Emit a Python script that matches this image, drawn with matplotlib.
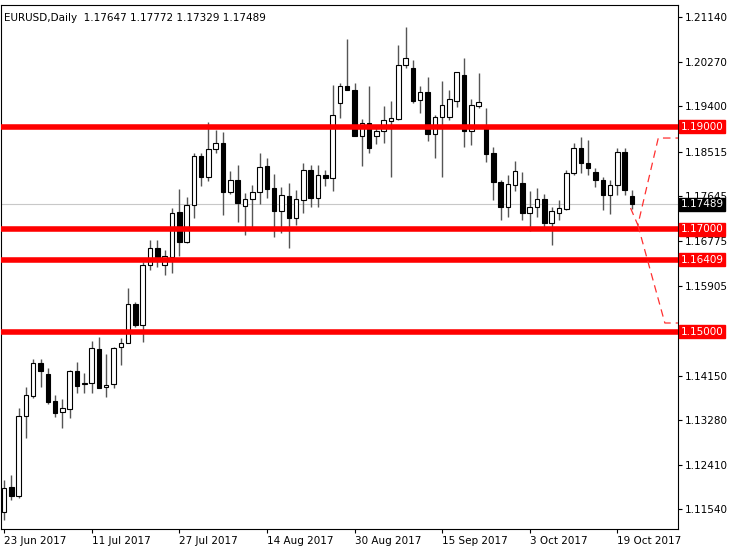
import matplotlib
matplotlib.use("Agg")
from matplotlib import pyplot as plt

# daily EURUSD candles, 23 Jun 2017 .. 20 Oct 2017
opens = [1.11488, 1.11975, 1.11800, 1.13360, 1.13750, 1.14394, 1.14179, 1.13652, 1.13438, 1.13497,
         1.14238, 1.13984, 1.14004, 1.14667, 1.13921, 1.13984, 1.14706, 1.14784, 1.15544, 1.15135,
         1.16305, 1.16636, 1.16305, 1.16461, 1.17338, 1.16753, 1.17475, 1.18430, 1.18021, 1.18567,
         1.18684, 1.17728, 1.17962, 1.17455, 1.17592, 1.17728, 1.18235, 1.17806, 1.17358, 1.17650,
         1.17221, 1.17572, 1.18157, 1.17611, 1.18059, 1.18001, 1.19464, 1.19795, 1.19717, 1.18820,
         1.19074, 1.18820, 1.18917, 1.19113, 1.19152, 1.20205, 1.20146, 1.19522, 1.19678, 1.18859,
         1.19191, 1.19191, 1.19502, 1.20012, 1.18917, 1.19405, 1.19015, 1.18488, 1.17923, 1.17436,
         1.17865, 1.17904, 1.17319, 1.17436, 1.17592, 1.17123, 1.17319, 1.17397, 1.18099, 1.18586,
         1.18294, 1.18118, 1.17962, 1.17670, 1.17865, 1.18508, 1.17650]
highs = [1.12112, 1.12210, 1.13516, 1.13926, 1.14472, 1.14472, 1.14296, 1.13770, 1.13692, 1.14257,
         1.14413, 1.14199, 1.14823, 1.14901, 1.14569, 1.14706, 1.14881, 1.15856, 1.15583, 1.16363,
         1.16792, 1.16792, 1.16597, 1.17416, 1.17787, 1.17631, 1.18489, 1.18489, 1.19093, 1.18937,
         1.18898, 1.18137, 1.18255, 1.17709, 1.17865, 1.18489, 1.18391, 1.18082, 1.17826, 1.17904,
         1.17767, 1.18294, 1.18255, 1.18255, 1.18157, 1.19815, 1.19854, 1.20712, 1.19854, 1.19152,
         1.19795, 1.19035, 1.19405, 1.19502, 1.20595, 1.20946, 1.20302, 1.19795, 1.19971, 1.19230,
         1.19893, 1.19717, 1.20068, 1.20341, 1.19541, 1.20049, 1.19366, 1.18606, 1.17962, 1.18059,
         1.18333, 1.18118, 1.17748, 1.17806, 1.17689, 1.17436, 1.17572, 1.18157, 1.18684, 1.18801,
         1.18742, 1.18196, 1.18021, 1.17962, 1.18586, 1.18586, 1.17767]
lows = [1.11332, 1.11722, 1.11761, 1.12931, 1.13711, 1.13926, 1.13594, 1.13341, 1.13126, 1.13321,
        1.13809, 1.13809, 1.13809, 1.13926, 1.13731, 1.13906, 1.14355, 1.14803, 1.15096, 1.14803,
        1.16207, 1.16266, 1.16110, 1.16149, 1.16480, 1.16733, 1.17221, 1.17845, 1.17943, 1.18489,
        1.17280, 1.17689, 1.17143, 1.16889, 1.17046, 1.17494, 1.17611, 1.16851, 1.16929, 1.16636,
        1.17085, 1.17319, 1.17436, 1.17436, 1.17845, 1.17748, 1.19171, 1.19717, 1.18820, 1.18235,
        1.18488, 1.18664, 1.18684, 1.18015, 1.19132, 1.20146, 1.19464, 1.19269, 1.18723, 1.18391,
        1.18015, 1.19132, 1.19386, 1.18606, 1.18645, 1.19366, 1.18313, 1.17572, 1.17182, 1.17241,
        1.17748, 1.17182, 1.16967, 1.17241, 1.17046, 1.16695, 1.17182, 1.17377, 1.18059, 1.18099,
        1.18059, 1.17826, 1.17377, 1.17299, 1.17670, 1.17670, 1.17397]
closes = [1.11956, 1.11800, 1.13360, 1.13770, 1.14394, 1.14238, 1.13633, 1.13419, 1.13516, 1.14238,
          1.13945, 1.13984, 1.14686, 1.13901, 1.13965, 1.14686, 1.14784, 1.15544, 1.15135, 1.16305,
          1.16636, 1.16461, 1.16480, 1.17319, 1.16753, 1.17475, 1.18430, 1.18021, 1.18567, 1.18684,
          1.17728, 1.17962, 1.17514, 1.17592, 1.17728, 1.18216, 1.17787, 1.17358, 1.17670, 1.17221,
          1.17592, 1.18157, 1.17611, 1.18059, 1.18001, 1.19230, 1.19795, 1.19717, 1.18820, 1.19074,
          1.18586, 1.18917, 1.19132, 1.19171, 1.20205, 1.20341, 1.19502, 1.19678, 1.18859, 1.19191,
          1.19425, 1.19541, 1.20068, 1.18917, 1.19425, 1.19483, 1.18469, 1.17923, 1.17436, 1.17884,
          1.18137, 1.17319, 1.17436, 1.17592, 1.17123, 1.17358, 1.17416, 1.18099, 1.18586, 1.18294,
          1.18196, 1.17962, 1.17670, 1.17865, 1.18508, 1.17767, 1.17489]

date_labels = ["23 Jun 2017", "11 Jul 2017", "27 Jul 2017", "14 Aug 2017",
               "30 Aug 2017", "15 Sep 2017", "3 Oct 2017", "19 Oct 2017"]
date_idx = [0, 12, 24, 36, 48, 60, 72, 84]
price_ticks = [1.21140, 1.20270, 1.19400, 1.18515, 1.17645, 1.16775,
               1.15905, 1.14150, 1.13280, 1.12410, 1.11540]
levels = [1.19000, 1.17000, 1.16409, 1.15000]
last_price = 1.17489
proj_x = [85.8, 86.8, 89.6, 92.3]
proj_y = [1.17416, 1.17085, 1.18781, 1.18781]
proj2_x = [86.8, 90.5, 92.3]
proj2_y = [1.17085, 1.15174, 1.15174]

fig = plt.figure(figsize=(7.30, 5.48), dpi=100)
ax = fig.add_axes([1 / 730, 1 - 529 / 548, 677 / 730, 524 / 548])
ax.set_xlim(-0.41, 92.3)
ax.set_ylim(1.11157, 1.21375)

# candles
for i, (o, h, l, c) in enumerate(zip(opens, highs, lows, closes)):
    ax.vlines(i, l, h, color="#555555", lw=1, zorder=2)
    bottom = min(o, c)
    height = max(abs(c - o), 0.00012)
    face = "white" if c >= o else "black"
    ax.bar(i, height, bottom=bottom, width=0.62, color=face,
           edgecolor="black", lw=0.8, zorder=3)

ax.axhline(last_price, color="#c8c8c8", lw=0.8, zorder=1)
for lv in levels:
    ax.axhline(lv, color="#ff0000", lw=4, zorder=4)

ax.plot(proj_x, proj_y, color="#ff3030", lw=0.9, dashes=(6, 4), zorder=5)
ax.plot(proj2_x, proj2_y, color="#ff3030", lw=0.9, dashes=(6, 4), zorder=5)

# right price scale
ax.yaxis.tick_right()
ax.set_yticks(price_ticks)
ax.set_yticklabels([f"{p:.5f}" for p in price_ticks])
ax.tick_params(axis="y", length=3, labelsize=7.5, pad=2)
for lv in levels:
    ax.text(1.004, lv, f"{lv:.5f}", transform=ax.get_yaxis_transform(),
            ha="left", va="center", fontsize=7.5, color="white",
            bbox=dict(boxstyle="square,pad=0.15", fc="#ff0000", ec="#ff0000"),
            clip_on=False)
ax.text(1.004, last_price, f"{last_price:.5f}", transform=ax.get_yaxis_transform(),
        ha="left", va="center", fontsize=7.5, color="white",
        bbox=dict(boxstyle="square,pad=0.15", fc="black", ec="black"), clip_on=False)

# dates
ax.set_xticks(date_idx)
ax.set_xticklabels(date_labels, ha="left")
ax.tick_params(axis="x", length=3, labelsize=7.5, pad=2)

for s in ax.spines.values():
    s.set_linewidth(0.8)

ax.text(0.004, 0.985, "EURUSD,Daily  1.17647 1.17772 1.17329 1.17489",
        transform=ax.transAxes, fontsize=7.5, va="top", ha="left")

fig.savefig("out.png", dpi=100)
